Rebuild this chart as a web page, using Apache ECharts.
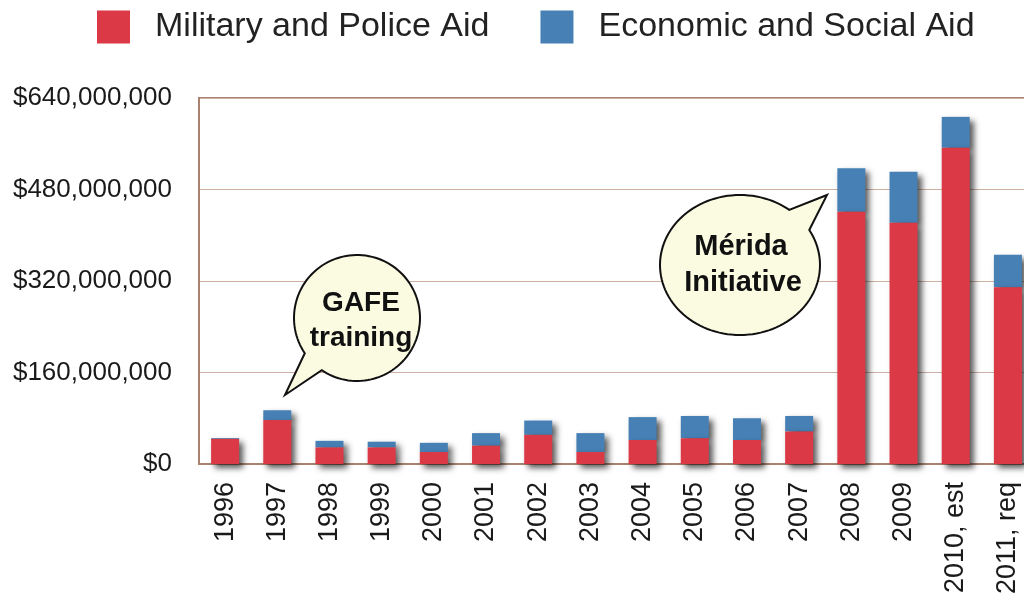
<!DOCTYPE html>
<html>
<head>
<meta charset="utf-8">
<script src="https://cdn.jsdelivr.net/npm/echarts@6/dist/echarts.min.js"></script>
<style>
  html, body { margin: 0; padding: 0; background: #fff; }
  #chart { width: 1024px; height: 604px; }
</style>
</head>
<body>
<div id="chart"></div>
<script>
// values in millions of US dollars
var years = ['1996', '1997', '1998', '1999', '2000', '2001', '2002', '2003',
             '2004', '2005', '2006', '2007', '2008', '2009', '2010, est', '2011, req'];
var militaryAid = [44, 77, 29, 29, 21, 32, 51, 21, 42, 45, 42, 57, 441, 422, 553, 309];
var economicAid = [1.5, 17, 11.5, 10, 16, 22, 25, 33, 40, 39, 38, 27, 76, 89, 54, 57];
var yTicks = [0, 160, 320, 480, 640];

var chart = echarts.init(document.getElementById('chart'));

var FONT = '"Liberation Sans", Arial, Helvetica, sans-serif';
var RED = '#dc3946';
var BLUE = '#4680b5';
var BROWN = '#a98370';

// speech bubble outline: ellipse going the long way from angle a1 to a2, then out to the tip
function bubblePoints(cx, cy, rx, ry, a1, a2, tip) {
    var pts = [];
    var end = a2;
    while (end <= a1) end += 360;
    for (var a = a1; a <= end; a += 3) {
        pts.push([cx + rx * Math.cos(a * Math.PI / 180), cy + ry * Math.sin(a * Math.PI / 180)]);
    }
    pts.push([cx + rx * Math.cos(end * Math.PI / 180), cy + ry * Math.sin(end * Math.PI / 180)]);
    pts.push(tip);
    return pts;
}

var option = {
    animation: false,
    backgroundColor: '#fff',
    legend: {
        left: 92,
        top: 5,
        itemWidth: 33,
        itemHeight: 33,
        itemGap: 51,
        icon: 'rect',
        textStyle: {
            fontFamily: FONT,
            fontSize: 34,
            color: '#222',
            padding: [0, 0, 0, 20]
        },
        data: ['Military and Police Aid', 'Economic and Social Aid']
    },
    grid: {
        left: 199,
        top: 98,
        width: 835,
        bottom: 140,
        outerBoundsMode: 'none',
        show: true,
        borderColor: BROWN,
        borderWidth: 2
    },
    xAxis: {
        type: 'category',
        data: years,
        axisLine: { lineStyle: { color: BROWN, width: 2 } },
        axisTick: { show: false },
        axisLabel: {
            rotate: 90,
            interval: 0,
            margin: 18,
            fontFamily: FONT,
            fontSize: 27,
            color: '#1a1a1a'
        }
    },
    yAxis: {
        type: 'value',
        min: yTicks[0],
        max: yTicks[yTicks.length - 1],
        interval: yTicks[1] - yTicks[0],
        axisLine: { show: true, lineStyle: { color: BROWN, width: 2 } },
        axisTick: { show: false },
        splitLine: { lineStyle: { color: '#cdb0a3', width: 1 } },
        axisLabel: {
            margin: 27,
            fontFamily: FONT,
            fontSize: 26,
            color: '#1a1a1a',
            formatter: function (v) {
                return '$' + (v * 1000000).toLocaleString('en-US');
            }
        }
    },
    series: [
        {
            name: 'Military and Police Aid',
            type: 'bar',
            stack: 'aid',
            barWidth: 28,
            z: 3,
            data: militaryAid,
            itemStyle: {
                color: RED,
                shadowColor: 'rgba(0,0,0,0.65)',
                shadowBlur: 6,
                shadowOffsetX: 4,
                shadowOffsetY: 4
            }
        },
        {
            name: 'Economic and Social Aid',
            type: 'bar',
            stack: 'aid',
            barWidth: 28,
            z: 2,
            data: economicAid,
            itemStyle: {
                color: BLUE,
                shadowColor: 'rgba(0,0,0,0.65)',
                shadowBlur: 6,
                shadowOffsetX: 4,
                shadowOffsetY: 4
            }
        }
    ],
    graphic: [
        {
            type: 'polygon',
            z: 100,
            shape: { points: bubblePoints(357, 318, 63, 63, 146, 124, [285, 395]) },
            style: { fill: '#fbfbe2', stroke: '#111', lineWidth: 2 }
        },
        {
            type: 'text',
            z: 101,
            style: {
                x: 361, y: 303,
                text: 'GAFE',
                align: 'center', verticalAlign: 'middle',
                font: 'bold 28px ' + FONT, fill: '#111'
            }
        },
        {
            type: 'text',
            z: 101,
            style: {
                x: 361, y: 338,
                text: 'training',
                align: 'center', verticalAlign: 'middle',
                font: 'bold 28px ' + FONT, fill: '#111'
            }
        },
        {
            type: 'polygon',
            z: 100,
            shape: { points: bubblePoints(740, 265, 80, 70, -30, -52, [827, 195]) },
            style: { fill: '#fbfbe2', stroke: '#111', lineWidth: 2 }
        },
        {
            type: 'text',
            z: 101,
            style: {
                x: 741, y: 247,
                text: 'Mérida',
                align: 'center', verticalAlign: 'middle',
                font: 'bold 29px ' + FONT, fill: '#111'
            }
        },
        {
            type: 'text',
            z: 101,
            style: {
                x: 743, y: 283,
                text: 'Initiative',
                align: 'center', verticalAlign: 'middle',
                font: 'bold 29px ' + FONT, fill: '#111'
            }
        }
    ]
};

chart.setOption(option);
</script>
</body>
</html>
